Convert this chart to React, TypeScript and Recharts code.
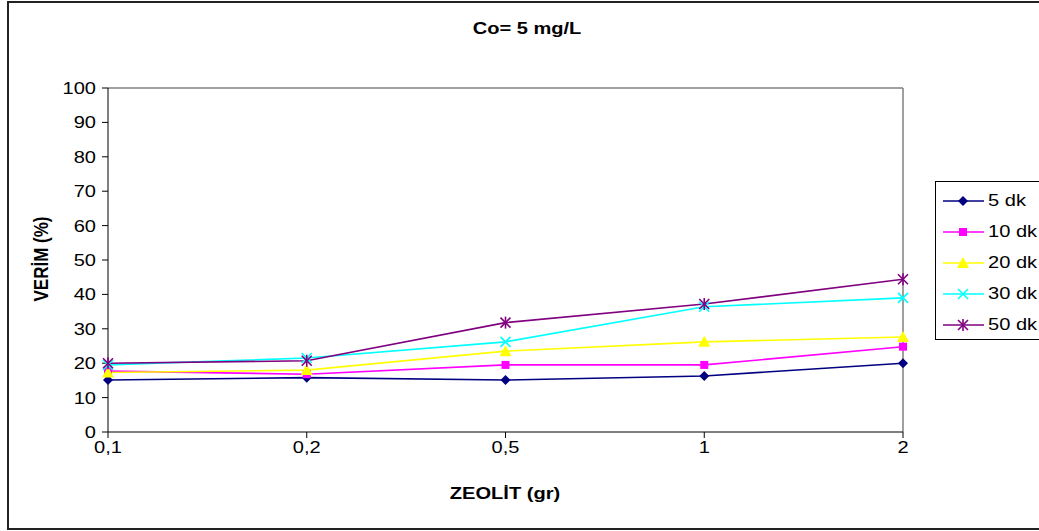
import { Line, LineChart, ReferenceLine, XAxis, YAxis } from 'recharts';

const categories = ['0,1', '0,2', '0,5', '1', '2'];
const dk5 = [15.1, 15.8, 15.1, 16.3, 20.0];
const dk10 = [17.7, 16.8, 19.5, 19.5, 24.8];
const dk20 = [17.3, 18.0, 23.5, 26.2, 27.6];
const dk30 = [19.5, 21.5, 26.2, 36.4, 39.0];
const dk50 = [20.0, 20.7, 31.8, 37.2, 44.4];
const yTicks = [0, 10, 20, 30, 40, 50, 60, 70, 80, 90, 100];

type Shape = 'diamond' | 'square' | 'triangle' | 'cross' | 'star';

const SERIES: { key: string; name: string; values: number[]; color: string; shape: Shape }[] = [
  { key: 's5', name: '5 dk', values: dk5, color: '#000080', shape: 'diamond' },
  { key: 's10', name: '10 dk', values: dk10, color: '#ff00ff', shape: 'square' },
  { key: 's20', name: '20 dk', values: dk20, color: '#ffff00', shape: 'triangle' },
  { key: 's30', name: '30 dk', values: dk30, color: '#00ffff', shape: 'cross' },
  { key: 's50', name: '50 dk', values: dk50, color: '#800080', shape: 'star' },
];

const chartData = categories.map((c, i) => {
  const row: Record<string, string | number> = { cat: c };
  SERIES.forEach((s) => {
    row[s.key] = s.values[i];
  });
  return row;
});

const FONT = '"Liberation Sans", Arial, sans-serif';

function Marker({ cx, cy, color, shape }: { cx: number; cy: number; color: string; shape: Shape }) {
  if (shape === 'diamond')
    return <polygon points={`${cx},${cy - 5} ${cx + 5},${cy} ${cx},${cy + 5} ${cx - 5},${cy}`} fill={color} />;
  if (shape === 'square') return <rect x={cx - 4} y={cy - 4} width={8} height={8} fill={color} />;
  if (shape === 'triangle')
    return <polygon points={`${cx},${cy - 6} ${cx + 6},${cy + 5} ${cx - 6},${cy + 5}`} fill={color} />;
  const arms = (
    <>
      <line x1={cx - 5} y1={cy - 5} x2={cx + 5} y2={cy + 5} stroke={color} strokeWidth={1.6} />
      <line x1={cx - 5} y1={cy + 5} x2={cx + 5} y2={cy - 5} stroke={color} strokeWidth={1.6} />
    </>
  );
  if (shape === 'cross') return <g>{arms}</g>;
  return (
    <g>
      {arms}
      <line x1={cx} y1={cy - 6} x2={cx} y2={cy + 6} stroke={color} strokeWidth={1.6} />
    </g>
  );
}

// horizontally stretched text, like the source image
function TickText({ x, y, payload, anchor, dy }: any) {
  return (
    <g transform={`translate(${x},${y}) scale(1.18,1)`}>
      <text x={0} y={0} dy={dy} textAnchor={anchor} fill="#000" fontSize={17} fontFamily={FONT}>
        {payload.value}
      </text>
    </g>
  );
}

const textStyle = (extra: React.CSSProperties): React.CSSProperties => ({
  position: 'absolute',
  fontFamily: FONT,
  fontWeight: 'bold',
  fontSize: 17,
  textAlign: 'center',
  whiteSpace: 'nowrap',
  ...extra,
});

function LegendBox() {
  return (
    <div
      style={{
        position: 'absolute',
        left: 935,
        top: 181,
        width: 120,
        height: 159,
        border: '1px solid #000',
        background: '#fff',
        fontFamily: FONT,
        fontSize: 17,
        boxSizing: 'border-box',
        paddingTop: 3,
      }}
    >
      {SERIES.map((s) => (
        <div key={s.key} style={{ display: 'flex', alignItems: 'center', height: 31 }}>
          <svg width={52} height={20} style={{ display: 'block' }}>
            <line x1={7} y1={10} x2={48} y2={10} stroke={s.color} strokeWidth={1.6} />
            <Marker cx={27} cy={10} color={s.color} shape={s.shape} />
          </svg>
          <span style={{ display: 'inline-block', transform: 'scaleX(1.18)', transformOrigin: 'left center' }}>
            {s.name}
          </span>
        </div>
      ))}
    </div>
  );
}

export default function App() {
  return (
    <div style={{ position: 'fixed', left: 0, top: 0, width: 1039, height: 531, background: '#fff', overflow: 'hidden' }}>
      <div
        style={{
          position: 'absolute',
          left: 7,
          top: 1,
          width: 1040,
          height: 529,
          border: '2px solid #222',
          boxSizing: 'border-box',
        }}
      />
      <div style={textStyle({ left: 427, width: 200, top: 19, transform: 'scaleX(1.18)' })}>Co= 5 mg/L</div>
      <div style={textStyle({ left: 405, width: 200, top: 484, transform: 'scaleX(1.18)' })}>ZEOLİT (gr)</div>
      <div style={textStyle({ left: -58, width: 200, top: 249, transform: 'rotate(-90deg) scaleY(1.18)' })}>
        VERİM (%)
      </div>
      <LineChart
        width={1039}
        height={531}
        data={chartData}
        margin={{ top: 88, right: 136, bottom: 69, left: 48 }}
        style={{ position: 'absolute', left: 0, top: 0 }}
      >
        <ReferenceLine y={100} stroke="#808080" strokeWidth={1.5} />
        <ReferenceLine x="2" stroke="#808080" strokeWidth={1.5} />
        <XAxis
          dataKey="cat"
          height={30}
          stroke="#000"
          tickSize={6}
          tickMargin={3}
          tick={<TickText anchor="middle" dy="0.71em" />}
        />
        <YAxis
          width={60}
          domain={[0, 100]}
          ticks={yTicks}
          interval={0}
          stroke="#000"
          tickSize={6}
          tickMargin={6}
          tick={<TickText anchor="end" dy="0.355em" />}
        />
        {SERIES.map((s) => (
          <Line
            key={s.key}
            dataKey={s.key}
            name={s.name}
            stroke={s.color}
            strokeWidth={1.6}
            isAnimationActive={false}
            dot={(p: any) => <Marker key={p.index} cx={p.cx} cy={p.cy} color={s.color} shape={s.shape} />}
          />
        ))}
      </LineChart>
      <LegendBox />
    </div>
  );
}
